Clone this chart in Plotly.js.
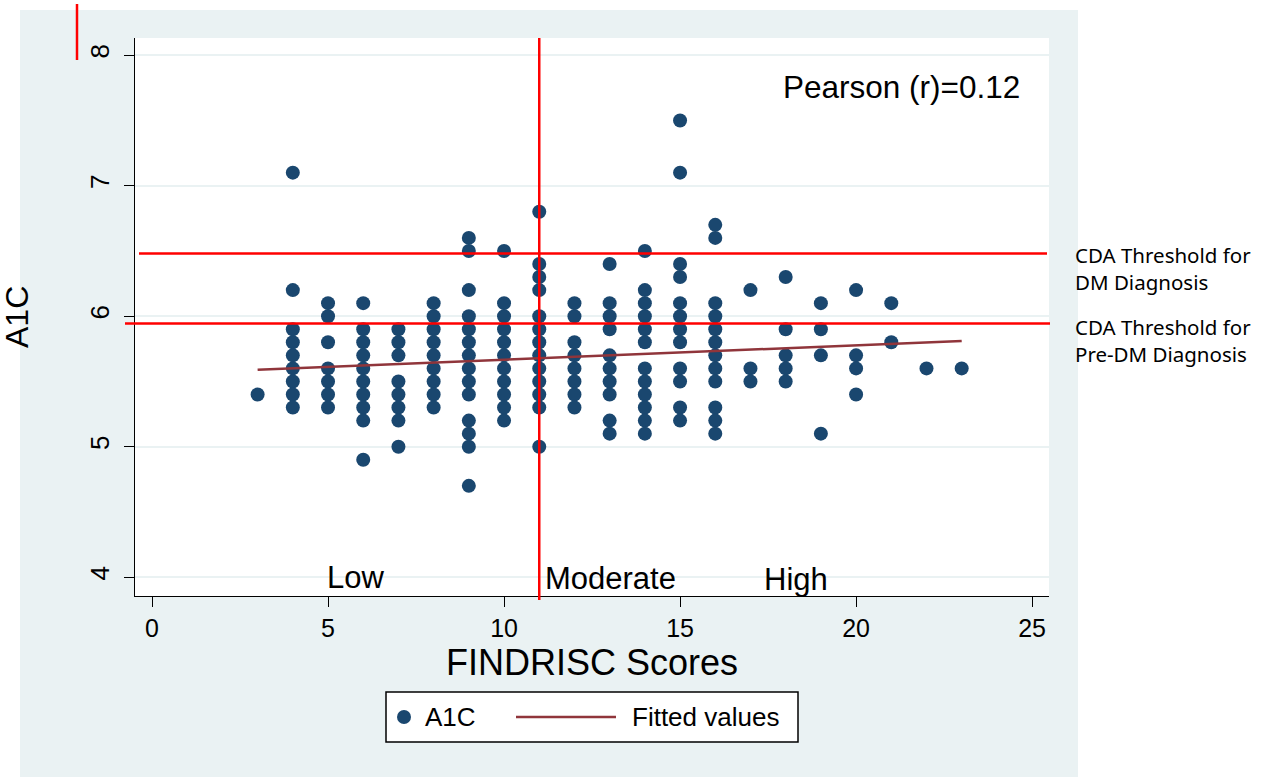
<!DOCTYPE html>
<html>
<head>
<meta charset="utf-8">
<script src="https://cdn.plot.ly/plotly-3.0.1.min.js"></script>
<style>html,body{margin:0;padding:0;background:#fff;}#chart{width:1267px;height:777px;}</style>
</head>
<body>
<div id="chart"></div>
<script>
// FINDRISC score of each participant (x) and the matching A1C value (y), one source line per score column
const findrisc = [
  3,
  4,4,4,4,4,4,4,4,4,
  5,5,5,5,5,5,5,
  6,6,6,6,6,6,6,6,6,6,
  7,7,7,7,7,7,7,7,
  8,8,8,8,8,8,8,8,8,
  9,9,9,9,9,9,9,9,9,9,9,9,9,9,
  10,10,10,10,10,10,10,10,10,10,10,
  11,11,11,11,11,11,11,11,11,11,11,11,11,
  12,12,12,12,12,12,12,12,
  13,13,13,13,13,13,13,13,13,13,
  14,14,14,14,14,14,14,14,14,14,14,14,
  15,15,15,15,15,15,15,15,15,15,15,15,
  16,16,16,16,16,16,16,16,16,16,16,16,
  17,17,17,
  18,18,18,18,18,
  19,19,19,19,
  20,20,20,20,
  21,21,
  22,
  23
];
const a1c = [
  5.4,
  7.1,6.2,5.9,5.8,5.7,5.6,5.5,5.4,5.3,
  6.1,6.0,5.8,5.6,5.5,5.4,5.3,
  6.1,5.9,5.8,5.7,5.6,5.5,5.4,5.3,5.2,4.9,
  5.9,5.8,5.7,5.5,5.4,5.3,5.2,5.0,
  6.1,6.0,5.9,5.8,5.7,5.6,5.5,5.4,5.3,
  6.6,6.5,6.2,6.0,5.9,5.8,5.7,5.6,5.5,5.4,5.2,5.1,5.0,4.7,
  6.5,6.1,6.0,5.9,5.8,5.7,5.6,5.5,5.4,5.3,5.2,
  6.8,6.4,6.3,6.2,6.0,5.9,5.8,5.7,5.6,5.5,5.4,5.3,5.0,
  6.1,6.0,5.8,5.7,5.6,5.5,5.4,5.3,
  6.4,6.1,6.0,5.9,5.7,5.6,5.5,5.4,5.2,5.1,
  6.5,6.2,6.1,6.0,5.9,5.8,5.6,5.5,5.4,5.3,5.2,5.1,
  7.5,7.1,6.4,6.3,6.1,6.0,5.9,5.8,5.6,5.5,5.3,5.2,
  6.7,6.6,6.1,6.0,5.9,5.8,5.7,5.6,5.5,5.3,5.2,5.1,
  6.2,5.6,5.5,
  6.3,5.9,5.7,5.6,5.5,
  6.1,5.9,5.7,5.1,
  6.2,5.7,5.6,5.4,
  6.1,5.8,
  5.6,
  5.6
];
// Fitted values (linear fit) endpoints
const fitX = [3, 23];
const fitY = [5.59, 5.81];
// Reference lines
const dmThreshold = 6.48;
const preDmThreshold = 5.945;
const riskCut = 11;
// Tick labels and texts
const xTicks = [0, 5, 10, 15, 20, 25];
const yTicks = [4, 5, 6, 7, 8];
const riskLabels = ["Low", "Moderate", "High"];
const thresholdLabels = ["CDA Threshold for<br>DM Diagnosis", "CDA Threshold for<br>Pre-DM Diagnosis"];
const pearsonText = "Pearson (r)=0.12";
const seriesNames = ["A1C", "Fitted values"];

const FONT = "Liberation Sans, Arial, Helvetica, sans-serif";
const GRAY = "#eaf2f3";
const RED = "#ff0000";
const NAVY = "#1a476f";
const MAROON = "#90353b";

// pixel helpers for paper coordinates (plot area: x 135..1049, y 38..596)
const L = 135, R = 1049, T = 38, B = 596;
const px = v => (v - L) / (R - L);
const py = v => (B - v) / (B - T);

const traces = [
  {
    type: "scatter", mode: "markers", name: seriesNames[0],
    x: findrisc, y: a1c, showlegend: false,
    marker: {color: NAVY, size: 14, line: {width: 0}},
    cliponaxis: false
  },
  {
    type: "scatter", mode: "lines", name: seriesNames[1],
    x: fitX, y: fitY, showlegend: false,
    line: {color: MAROON, width: 2.5}
  }
];

// legend key geometry (pixels)
const legY = 717;

const layout = {
  width: 1267, height: 777, autosize: false,
  margin: {l: L, r: 1267 - R, t: T, b: 777 - B, pad: 0},
  paper_bgcolor: "#ffffff",
  plot_bgcolor: "#ffffff",
  font: {family: FONT, color: "#000000"},
  showlegend: false,
  xaxis: {
    range: [-0.483, 25.48], tickvals: xTicks, ticktext: xTicks.map(String),
    showgrid: false, zeroline: false,
    showline: true, linecolor: "#000000", linewidth: 1.2,
    ticks: "outside", ticklen: 10, tickcolor: "#000000", tickwidth: 1.2,
    tickfont: {family: FONT, size: 25, color: "#000000"},
    title: {text: "FINDRISC Scores", font: {family: FONT, size: 36, color: "#000000"}, standoff: 0}
  },
  yaxis: {
    range: [3.856, 8.132], tickvals: yTicks, ticktext: yTicks.map(String),
    tickangle: -90,
    showgrid: true, gridcolor: GRAY, gridwidth: 2, zeroline: false,
    showline: true, linecolor: "#000000", linewidth: 1.2,
    ticks: "outside", ticklen: 10, tickcolor: "#000000", tickwidth: 1.2,
    ticklabelstandoff: 5,
    tickfont: {family: FONT, size: 26, color: "#000000"}
  },
  shapes: [
    {type: "rect", xref: "paper", yref: "paper", layer: "below",
     x0: px(20), x1: px(1078), y0: py(777), y1: py(10),
     fillcolor: GRAY, line: {width: 0}},
    {type: "rect", xref: "paper", yref: "paper", layer: "below",
     x0: 0, x1: 1, y0: 0, y1: 1, fillcolor: "#ffffff", line: {width: 0}},
    {type: "line", xref: "paper", yref: "y", x0: px(139), x1: px(1047), y0: dmThreshold, y1: dmThreshold,
     line: {color: RED, width: 2.5}},
    {type: "line", xref: "paper", yref: "y", x0: px(125), x1: px(1050), y0: preDmThreshold, y1: preDmThreshold,
     line: {color: RED, width: 2.5}},
    {type: "line", xref: "x", yref: "paper", x0: riskCut, x1: riskCut, y0: py(600), y1: 1,
     line: {color: RED, width: 2.5}},
    {type: "line", xref: "paper", yref: "paper", x0: px(77), x1: px(77), y0: py(60), y1: py(4),
     line: {color: RED, width: 2.5}},
    // legend box and keys
    {type: "rect", xref: "paper", yref: "paper", x0: px(386), x1: px(798), y0: py(742), y1: py(692),
     fillcolor: "#ffffff", line: {color: "#000000", width: 1.5}},
    {type: "circle", xref: "paper", yref: "paper", x0: px(397), x1: px(411), y0: py(legY + 7), y1: py(legY - 7),
     fillcolor: NAVY, line: {width: 0}},
    {type: "line", xref: "paper", yref: "paper", x0: px(516), x1: px(616), y0: py(legY), y1: py(legY),
     line: {color: MAROON, width: 2.5}}
  ],
  annotations: [
    {text: pearsonText, xref: "x", yref: "y", x: 21.28, y: 7.755, xanchor: "center", yanchor: "middle",
     showarrow: false, font: {family: FONT, size: 31.5, color: "#000000"}},
    {text: riskLabels[0], xref: "x", yref: "y", x: 5.77, y: 4.0, xanchor: "center", yanchor: "middle",
     showarrow: false, font: {family: FONT, size: 31, color: "#000000"}},
    {text: riskLabels[1], xref: "x", yref: "y", x: 11.11, y: 3.99, xanchor: "left", yanchor: "middle",
     showarrow: false, font: {family: FONT, size: 31, color: "#000000"}},
    {text: riskLabels[2], xref: "x", yref: "y", x: 18.30, y: 3.985, xanchor: "center", yanchor: "middle",
     showarrow: false, font: {family: FONT, size: 31, color: "#000000"}},
    {text: thresholdLabels[0], xref: "paper", yref: "paper", x: px(1073), y: py(268), xanchor: "left", yanchor: "middle",
     align: "left", showarrow: false, font: {family: "Noto Sans, sans-serif", size: 20.5, color: "#000000"}},
    {text: thresholdLabels[1], xref: "paper", yref: "paper", x: px(1073), y: py(340), xanchor: "left", yanchor: "middle",
     align: "left", showarrow: false, font: {family: "Noto Sans, sans-serif", size: 20.5, color: "#000000"}},
    {text: "A1C", xref: "paper", yref: "paper", x: px(-3), y: py(317), xanchor: "left", yanchor: "middle",
     textangle: -90, showarrow: false, font: {family: FONT, size: 32, color: "#000000"}},
    // legend labels
    {text: seriesNames[0], xref: "paper", yref: "paper", x: px(423), y: py(legY), xanchor: "left", yanchor: "middle",
     showarrow: false, font: {family: FONT, size: 26, color: "#000000"}},
    {text: seriesNames[1], xref: "paper", yref: "paper", x: px(630), y: py(legY), xanchor: "left", yanchor: "middle",
     showarrow: false, font: {family: FONT, size: 26, color: "#000000"}}
  ]
};

Plotly.newPlot("chart", traces, layout, {displayModeBar: false, responsive: false});
</script>
</body>
</html>
